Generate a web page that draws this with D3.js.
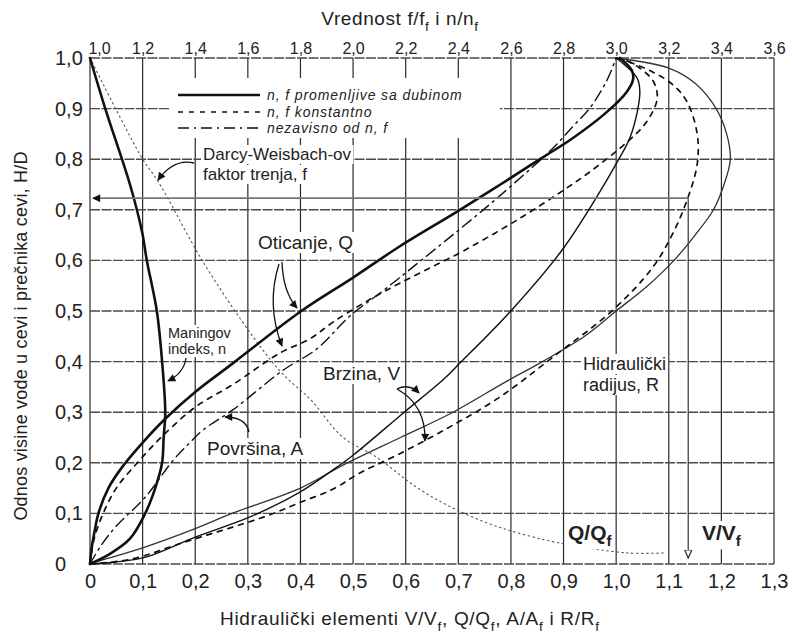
<!DOCTYPE html>
<html>
<head>
<meta charset="utf-8">
<script src="https://cdn.jsdelivr.net/npm/d3@7"></script>
<style>
  body { margin: 0; background: #fff; }
  svg { display: block; font-family: "Liberation Sans", Arial, sans-serif; }
</style>
</head>
<body>
<svg id="chart" width="792" height="633"></svg>
<script>
// Axis ticks
const xTicks = [0, 0.1, 0.2, 0.3, 0.4, 0.5, 0.6, 0.7, 0.8, 0.9, 1.0, 1.1, 1.2, 1.3];
const yTicks = [0, 0.1, 0.2, 0.3, 0.4, 0.5, 0.6, 0.7, 0.8, 0.9, 1.0];
const topTicks = [1.0, 1.2, 1.4, 1.6, 1.8, 2.0, 2.2, 2.4, 2.6, 2.8, 3.0, 3.2, 3.4, 3.6];

// Hydraulic elements [ratio, H/D] (bottom scale)
const flowVariable = [[0,0],[0.003,0.03],[0.009,0.066],[0.016,0.1],[0.035,0.15],[0.06,0.19],[0.101,0.241],[0.146,0.29],[0.2,0.34],[0.272,0.397],[0.399,0.498],[0.5,0.566],[0.589,0.628],[0.697,0.696],[0.78,0.75],[0.855,0.8],[0.918,0.842],[0.982,0.893],[1.02,0.933],[1.032,0.957],[1.03,0.975],[1.007,1.0]];
const flowConstant = [[0,0],[0.008,0.05],[0.025,0.1],[0.05,0.15],[0.09,0.2],[0.135,0.25],[0.2,0.31],[0.272,0.355],[0.361,0.417],[0.418,0.445],[0.462,0.478],[0.527,0.52],[0.589,0.555],[0.665,0.595],[0.703,0.615],[0.812,0.68],[0.906,0.743],[0.95,0.775],[1.022,0.835],[1.058,0.874],[1.078,0.92],[1.07,0.955],[1.03,0.99],[1.0,1.0]];
const areaRatio = [[0,0],[0.02,0.035],[0.05,0.075],[0.105,0.132],[0.158,0.205],[0.19,0.24],[0.215,0.265],[0.272,0.305],[0.367,0.383],[0.431,0.425],[0.494,0.49],[0.557,0.54],[0.627,0.598],[0.736,0.69],[0.798,0.745],[0.88,0.822],[0.918,0.865],[0.95,0.901],[0.982,0.955],[1.0,1.0]];
const velocityVariable = [[0,0],[0.05,0.004],[0.108,0.014],[0.2,0.053],[0.304,0.093],[0.399,0.142],[0.47,0.192],[0.5,0.215],[0.595,0.298],[0.671,0.364],[0.703,0.397],[0.798,0.498],[0.897,0.62],[0.96,0.72],[1.004,0.798],[1.026,0.842],[1.04,0.893],[1.045,0.933],[1.04,0.96],[1.0,1.0]];
const velocityConstant = [[0,0],[0.08,0.01],[0.17,0.04],[0.2,0.05],[0.336,0.095],[0.4,0.122],[0.462,0.148],[0.513,0.18],[0.583,0.215],[0.684,0.271],[0.779,0.33],[0.88,0.409],[0.994,0.502],[1.07,0.587],[1.108,0.654],[1.135,0.72],[1.154,0.79],[1.154,0.85],[1.135,0.913],[1.108,0.947],[1.07,0.972],[1.03,0.99],[1.0,1.0]];
const radiusRatio = [[0,0],[0.03,0.01],[0.1,0.032],[0.2,0.07],[0.27,0.1],[0.4,0.15],[0.48,0.195],[0.59,0.25],[0.69,0.3],[0.79,0.36],[0.86,0.4],[0.94,0.45],[1.0,0.5],[1.06,0.55],[1.11,0.6],[1.15,0.65],[1.185,0.7],[1.205,0.75],[1.217,0.8],[1.21,0.85],[1.19,0.9],[1.15,0.95],[1.1,0.98],[1.0,1.0]];

// Roughness ratios [value, H/D] (top scale)
const manningRatio = [[1.0,1.0],[1.058,0.9],[1.152,0.75],[1.198,0.656],[1.216,0.6],[1.254,0.5],[1.274,0.4],[1.286,0.3],[1.28,0.25],[1.274,0.2],[1.248,0.15],[1.21,0.1],[1.152,0.05],[1.076,0.02],[1.0,0.0]];
const darcyRatio = [[1.0,1.0],[1.198,0.802],[1.26,0.755],[1.43,0.597],[1.62,0.449],[1.73,0.377],[1.84,0.324],[1.96,0.251],[2.09,0.211],[2.24,0.152],[2.37,0.113],[2.51,0.081],[2.63,0.061],[2.78,0.042],[3.04,0.022],[3.19,0.022]];

// Peak of V/Vf (n, f constant)
const peakVelocity = [1.137, 0.723];

const svg = d3.select("#chart");
const x = d3.scaleLinear().domain([0, 1.3]).range([90, 774]);
const xTop = d3.scaleLinear().domain([1.0, 3.6]).range([90, 774]);
const y = d3.scaleLinear().domain([0, 1]).range([564, 58]);
const fmt = v => v === 0 ? "0" : v.toFixed(1).replace(".", ",");

const defs = svg.append("defs");
defs.append("marker").attr("id", "head").attr("viewBox", "0 0 10 10")
  .attr("refX", 9).attr("refY", 5).attr("markerWidth", 10).attr("markerHeight", 8)
  .attr("markerUnits", "userSpaceOnUse").attr("orient", "auto")
  .append("path").attr("d", "M0,0L10,5L0,10z").attr("fill", "#111");
defs.append("marker").attr("id", "hollow").attr("viewBox", "0 0 10 10")
  .attr("refX", 9).attr("refY", 5).attr("markerWidth", 9).attr("markerHeight", 9)
  .attr("markerUnits", "userSpaceOnUse").attr("orient", "auto")
  .append("path").attr("d", "M0,1L9,5L0,9z").attr("fill", "#fff").attr("stroke", "#333").attr("stroke-width", 1.4);

// Grid
const grid = svg.append("g");
grid.selectAll("line.v").data(xTicks).join("line")
  .attr("x1", d => x(d)).attr("x2", d => x(d)).attr("y1", y(1)).attr("y2", y(0))
  .attr("stroke", "#2a2a2a").attr("stroke-width", 1.2);
grid.selectAll("line.h").data(yTicks).join("line")
  .attr("x1", x(0)).attr("x2", x(1.3)).attr("y1", d => y(d)).attr("y2", d => y(d))
  .attr("stroke", "#4a4a4a").attr("stroke-width", 1.4).attr("stroke-dasharray", "10,1.5");

// Axes
function styleAxis(g) {
  g.attr("font-family", null).attr("font-size", null);
  g.select(".domain").remove();
  g.selectAll("text").attr("fill", "#222");
}
svg.append("g").attr("transform", `translate(0,${y(0)})`)
  .call(d3.axisBottom(x).tickValues(xTicks).tickFormat(fmt).tickSize(0).tickPadding(10))
  .call(styleAxis).selectAll("text").attr("font-size", 20);
svg.append("g").attr("transform", `translate(${x(0)},0)`)
  .call(d3.axisLeft(y).tickValues(yTicks).tickFormat(fmt).tickSize(0))
  .call(styleAxis).selectAll("text").attr("font-size", 20).attr("x", -35).attr("text-anchor", "start");
const topAxis = svg.append("g").attr("transform", `translate(0,${y(1)})`)
  .call(d3.axisTop(xTop).tickValues(topTicks).tickFormat(fmt).tickSize(0).tickPadding(4))
  .call(styleAxis);
topAxis.selectAll("text").attr("font-size", 16).attr("x", (d, i) => i === 0 ? 9 : 0);

// Curves
const lineBottom = d3.line().x(d => x(d[0])).y(d => y(d[1])).curve(d3.curveCatmullRom.alpha(0.5));
const lineTop = d3.line().x(d => xTop(d[0])).y(d => y(d[1])).curve(d3.curveCatmullRom.alpha(0.5));
const curves = svg.append("g").attr("fill", "none").attr("stroke-linecap", "round");
curves.append("path").attr("d", lineTop(darcyRatio)).attr("stroke", "#555").attr("stroke-width", 1.1).attr("stroke-dasharray", "1.5,3.5");
curves.append("path").attr("d", lineBottom(radiusRatio)).attr("stroke", "#333").attr("stroke-width", 1.3);
curves.append("path").attr("d", lineBottom(velocityVariable)).attr("stroke", "#111").attr("stroke-width", 1.4);
curves.append("path").attr("d", lineBottom(velocityConstant)).attr("stroke", "#111").attr("stroke-width", 1.7).attr("stroke-dasharray", "5,6");
curves.append("path").attr("d", lineBottom(flowConstant)).attr("stroke", "#111").attr("stroke-width", 1.7).attr("stroke-dasharray", "5,6");
curves.append("path").attr("d", lineBottom(areaRatio)).attr("stroke", "#111").attr("stroke-width", 1.4).attr("stroke-dasharray", "11,5,2,5");
curves.append("path").attr("d", lineBottom(flowVariable)).attr("stroke", "#111").attr("stroke-width", 2.6);
curves.append("path").attr("d", lineTop(manningRatio)).attr("stroke", "#111").attr("stroke-width", 2.6);

// Peak velocity guide lines
const guide = svg.append("g").attr("fill", "none").attr("stroke", "#777").attr("stroke-width", 1.8);
guide.append("line").attr("x1", x(peakVelocity[0])).attr("y1", y(peakVelocity[1]))
  .attr("x2", x(0) + 3).attr("y2", y(peakVelocity[1])).attr("marker-end", "url(#head)");
guide.append("line").attr("x1", x(peakVelocity[0])).attr("y1", y(peakVelocity[1]))
  .attr("x2", x(peakVelocity[0])).attr("y2", y(0) - 6).attr("stroke", "#444").attr("stroke-width", 1.3)
  .attr("marker-end", "url(#hollow)");

// Labels with white backgrounds
const bg = svg.append("g");
const arrows = svg.append("g").attr("fill", "none").attr("stroke", "#111").attr("stroke-width", 1.3);
const labels = svg.append("g").attr("fill", "#222");

function label(px, py, parts, size, opts = {}) {
  const t = labels.append("text").attr("x", px).attr("y", py).attr("font-size", size);
  if (opts.weight) t.attr("font-weight", opts.weight);
  if (opts.spacing) t.attr("letter-spacing", opts.spacing);
  let lowered = false;
  const shift = size * 0.3;
  parts.forEach(p => {
    const sub = Array.isArray(p);
    const txt = sub ? p[0] : p;
    const ts = t.append("tspan").text(txt);
    if (sub) {
      ts.attr("font-size", size * 0.72);
      if (!lowered) { ts.attr("dy", shift); lowered = true; }
    } else if (lowered) { ts.attr("dy", -shift); lowered = false; }
  });
  if (opts.box !== false) {
    const b = t.node().getBBox();
    bg.append("rect").attr("x", b.x - 2).attr("y", b.y).attr("width", b.width + 4).attr("height", b.height)
      .attr("fill", "#fff");
  }
  return t;
}

// Legend
bg.append("rect").attr("x", 170).attr("y", 78).attr("width", 330).attr("height", 60).attr("fill", "#fff");
const legendItems = [
  { y: 95, text: "n, f promenljive sa dubinom", w: 2.4, dash: null },
  { y: 112, text: "n, f konstantno", w: 1.7, dash: "5,6" },
  { y: 128, text: "nezavisno od n, f", w: 1.6, dash: "11,5,2,5" }
];
legendItems.forEach(it => {
  arrows.append("line").attr("x1", 178).attr("x2", 260).attr("y1", it.y).attr("y2", it.y)
    .attr("stroke-width", it.w).attr("stroke-dasharray", it.dash);
  labels.append("text").attr("x", 267).attr("y", it.y + 5).attr("font-size", 14)
    .attr("font-style", "italic").attr("letter-spacing", 0.9).text(it.text);
});

label(203, 160, ["Darcy-Weisbach-ov"], 17);
label(203, 180, ["faktor trenja, f"], 17);
label(258, 249, ["Oticanje, Q"], 19);
label(168, 338, ["Maningov"], 14.5);
label(168, 354, ["indeks, n"], 14.5);
label(323, 380, ["Brzina, V"], 19);
label(207, 455, ["Površina, A"], 19);
label(583, 370, ["Hidraulički"], 18);
label(583, 391, ["radijus, R"], 18);
label(568, 540, ["Q/Q", ["f"]], 21, { weight: "bold" });
label(702, 540, ["V/V", ["f"]], 21, { weight: "bold" });

// Curved pointer arrows
const pointers = [
  "M194,163 Q174,158 158,180",
  "M282,262 Q283,292 297,308",
  "M279,264 Q266,305 282,346",
  "M186,358 Q184,373 168,381",
  "M249,432 Q246,417 225,417",
  "M397,389 Q409,383 419,393",
  "M397,389 Q426,405 425,441"
];
pointers.forEach(d => arrows.append("path").attr("d", d).attr("marker-end", "url(#head)"));

// Titles
label(400, 25, ["Vrednost f/f", ["f"], " i n/n", ["f"]], 19, { box: false, spacing: 0.6 }).attr("text-anchor", "middle");
label(220, 625, ["Hidraulički elementi V/V", ["f"], ", Q/Q", ["f"], ", A/A", ["f"], " i R/R", ["f"]], 19, { box: false, spacing: 0.7 });
labels.append("text").attr("transform", "translate(27,336) rotate(-90)").attr("text-anchor", "middle")
  .attr("font-size", 18).attr("letter-spacing", 0.2).text("Odnos visine vode u cevi i prečnika cevi, H/D");
</script>
</body>
</html>
